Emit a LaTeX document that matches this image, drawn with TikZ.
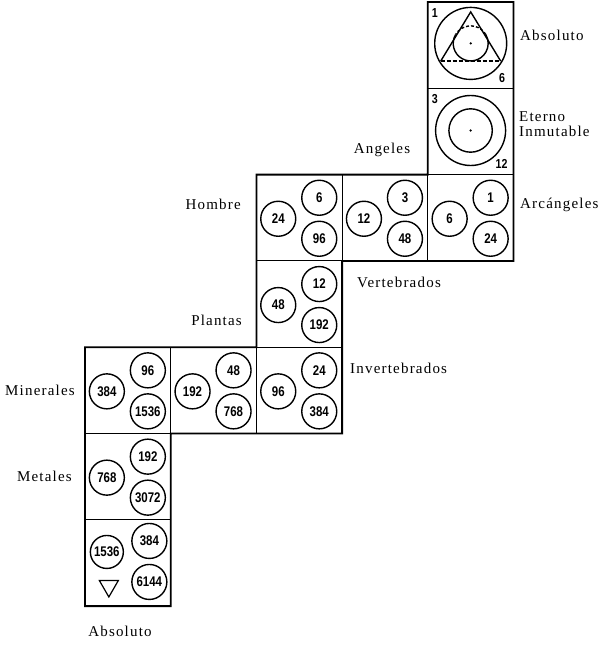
\documentclass[tikz,border=0pt]{standalone}
\usepackage{fontspec}
\setmainfont{Liberation Serif}[LetterSpace=8]
\newfontfamily\numfont{Liberation Sans}[FakeStretch=0.82]
\usetikzlibrary{shapes.geometric}

\begin{document}
\begin{tikzpicture}[x=1pt,y=-1pt,
    cell/.style ={rectangle, draw, line width=1pt, inner sep=0pt, outer sep=0pt, minimum width=85.7pt, minimum height=86.3pt},
    ball/.style ={circle, draw, line width=1.4pt, inner sep=0pt, minimum size=35pt, font=\fontsize{14}{14}\selectfont\numfont\bfseries},
    corner/.style ={inner sep=0pt, font=\fontsize{13}{13}\selectfont\numfont\bfseries},
    tag/.style ={inner sep=0pt, font=\fontsize{15}{15}\selectfont}]
   \useasboundingbox (0,0) rectangle (600,646);
   % cells
   \node[cell] (absoluto)      at (470.65,45.15)  {};
   \node[cell] (eterno)        at (470.65,131.45) {};
   \node[cell] (hombre)        at (299.25,217.75) {};
   \node[cell] (angeles)       at (384.95,217.75) {};
   \node[cell] (arcangeles)    at (470.65,217.75) {};
   \node[cell] (vertebrados)   at (299.25,304.05) {};
   \node[cell] (minerales)     at (127.85,390.35) {};
   \node[cell] (plantas)       at (213.55,390.35) {};
   \node[cell] (invertebrados) at (299.25,390.35) {};
   \node[cell] (metales)       at (127.85,476.65) {};
   \node[cell] (fondo)         at (127.85,562.95) {};
   \draw[line width=1.8pt] (absoluto.north west) -- (absoluto.north east) -- (arcangeles.south east)
      -- (angeles.south west) -- (invertebrados.south east) -- (minerales.south east)
      -- (fondo.south east) -- (fondo.south west) -- (minerales.north west)
      -- (plantas.north east) -- (hombre.north west) -- (angeles.north east) -- cycle;
   % numbers
   \foreach \cn/\na/\nb/\nc in {hombre/24/6/96, angeles/12/3/48, arcangeles/6/1/24,
      vertebrados/48/12/192, minerales/384/96/1536, plantas/192/48/768,
      invertebrados/96/24/384, metales/768/192/3072}{
      \node[ball] (\cn-a) at ([shift={(-21,1)}]\cn.center)  {\na};
      \node[ball] (\cn-b) at ([shift={(20,-20)}]\cn.center) {\nb};
      \node[ball] (\cn-c) at ([shift={(20,21)}]\cn.center)  {\nc};
   }
   \node[ball, minimum size=33pt] (fondo-a) at ([shift={(-21,-11)}]fondo.center) {1536};
   \node[ball] (fondo-b) at ([shift={(21.5,-22)}]fondo.center) {384};
   \node[ball] (fondo-c) at ([shift={(21.5,19)}]fondo.center)  {6144};
   \node[draw, regular polygon, regular polygon sides=3, shape border rotate=180, line width=1.2pt,
      inner sep=0pt, minimum size=22pt] (delta) at ([shift={(-19,23)}]fondo.center) {};
   % top two cells
   \coordinate (o1) at (470.7,43.4);
   \coordinate (o2) at (470.6,130.5);
   \coordinate (t1) at ([shift={(0,-31.5)}]o1);
   \coordinate (t2) at ([shift={(-30,17.7)}]o1);
   \coordinate (t3) at ([shift={(30,17.7)}]o1);
   \draw[line width=1.4pt] (o1) circle[radius=36];
   \draw[line width=1.4pt] (t2) -- (t1) -- (t3);
   \draw[line width=1.4pt, dash pattern=on 4pt off 2pt] (t2) -- (t3);
   \draw[line width=1.4pt] ([shift={(150:17.5pt)}]o1) arc[start angle=150, end angle=390, radius=17.5pt];
   \draw[line width=1.4pt, dash pattern=on 3pt off 2pt] ([shift={(30:17.5pt)}]o1) arc[start angle=30, end angle=150, radius=17.5pt];
   \fill (o1) circle[radius=1.3];
   \draw[line width=1.4pt] (o2) circle[radius=35];
   \draw[line width=1.4pt] (o2) circle[radius=21.7];
   \fill (o2) circle[radius=1.3];
   \node[corner] (n1)  at ([shift={(7,11)}]absoluto.north west)    {1};
   \node[corner] (n6)  at ([shift={(-11.5,-10)}]absoluto.south east) {6};
   \node[corner] (n3)  at ([shift={(7,11)}]eterno.north west)      {3};
   \node[corner] (n12) at ([shift={(-12,-11)}]eterno.south east)   {12};
   % labels
   \node[tag, anchor=base west] (t-absoluto)      at (520,40)  {Absoluto};
   \node[tag, anchor=base west] (t-eterno)        at (519,121) {Eterno};
   \node[tag, anchor=base west] (t-inmutable)     at (519,136) {Inmutable};
   \node[tag, anchor=base west] (t-arcangeles)    at (520,208) {Arcángeles};
   \node[tag, anchor=base]      (t-angeles)       at (382,153) {Angeles};
   \node[tag, anchor=base east] (t-hombre)        at (241,209) {Hombre};
   \node[tag, anchor=base west] (t-vertebrados)   at (357,287) {Vertebrados};
   \node[tag, anchor=base east] (t-plantas)       at (242,325) {Plantas};
   \node[tag, anchor=base west] (t-invertebrados) at (350,373) {Invertebrados};
   \node[tag, anchor=base east] (t-minerales)     at (75,395)  {Minerales};
   \node[tag, anchor=base east] (t-metales)       at (72,481)  {Metales};
   \node[tag, anchor=base]      (t-fondo)         at (120,636) {Absoluto};
\end{tikzpicture}
\end{document}
